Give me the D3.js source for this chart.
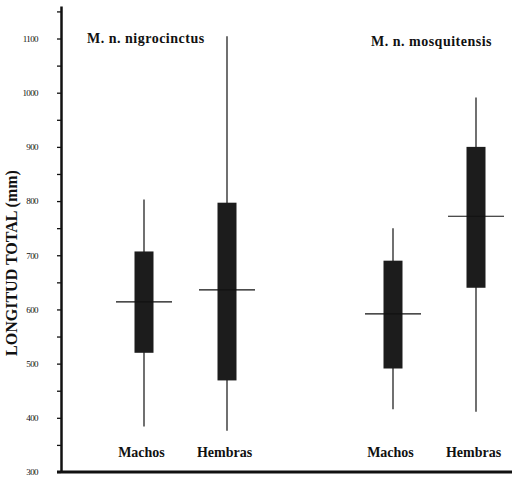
<!DOCTYPE html>
<html>
<head>
<meta charset="utf-8">
<script src="https://cdn.jsdelivr.net/npm/d3@7"></script>
<style>
  body { margin: 0; background: #fff; }
  text { font-family: "Liberation Serif", "Times New Roman", serif; fill: #111; }
</style>
</head>
<body>
<svg width="512" height="478"></svg>
<script>
// data (mm)
var groups = ["M. n. nigrocinctus", "M. n. mosquitensis"];
var sexes = ["Machos", "Hembras"];
var whiskerLow  = [384, 376, 416, 411];
var q1          = [520, 469, 491, 640];
var medians     = [614, 636, 592, 772];
var q3          = [707, 797, 690, 900];
var whiskerHigh = [803, 1104, 750, 991];
var yTicks = d3.range(300, 1151, 50);

function main(){
    var svg = d3.select("svg");

    var yScale = d3.scaleLinear().domain([300, 1160]).range([472, 6]);
    // 5 slots, the middle one left empty between the two subspecies
    var xScale = d3.scaleLinear().domain([0, 4]).range([144, 476]);

    var boxes = [];
    groups.forEach(function(g, gi){
        sexes.forEach(function(s, si){
            var i = gi * 2 + si;
            boxes.push({group: g, sex: s, slot: gi * 3 + si,
                lo: whiskerLow[i], q1: q1[i], med: medians[i], q3: q3[i], hi: whiskerHigh[i]});
        });
    });

    // y axis
    var yAxis = svg.append("g").attr("transform", "translate(61,0)")
        .call(d3.axisLeft(yScale).tickValues(yTicks).tickSize(4).tickSizeOuter(0).tickPadding(19)
            .tickFormat(function(d){ return d % 100 === 0 ? d : ""; }));
    yAxis.select(".domain").attr("stroke", "#111").attr("stroke-width", 2.5);
    yAxis.selectAll(".tick line").attr("stroke", "#111").attr("stroke-width", 1.3);
    yAxis.selectAll(".tick text").style("font-size", "9px").style("letter-spacing", "-0.6px")
        .style("font-family", "Liberation Serif, serif").attr("fill", "#222");

    // x axis baseline
    svg.append("line").attr("x1", 57).attr("x2", 512)
        .attr("y1", yScale(300)).attr("y2", yScale(300))
        .attr("stroke", "#111").attr("stroke-width", 3);

    // axis title
    svg.append("text")
        .attr("transform", "translate(17," + 263 + ") rotate(-90)")
        .attr("text-anchor", "middle")
        .style("font-size", "16px").style("font-weight", "bold")
        .text("LONGITUD TOTAL (mm)");

    var g = svg.append("g");

    // whiskers
    g.selectAll(".whisker").data(boxes).enter().append("line")
        .attr("class", "whisker")
        .attr("x1", function(d){ return xScale(d.slot); })
        .attr("x2", function(d){ return xScale(d.slot); })
        .attr("y1", function(d){ return yScale(d.hi); })
        .attr("y2", function(d){ return yScale(d.lo); })
        .attr("stroke", "#111").attr("stroke-width", 1.2);

    // boxes
    g.selectAll(".bar").data(boxes).enter().append("rect")
        .attr("class", "bar")
        .attr("x", function(d){ return xScale(d.slot) - 9.5; })
        .attr("width", 19)
        .attr("y", function(d){ return yScale(d.q3); })
        .attr("height", function(d){ return yScale(d.q1) - yScale(d.q3); })
        .attr("fill", "#1c1c1c");

    // medians
    g.selectAll(".median").data(boxes).enter().append("line")
        .attr("class", "median")
        .attr("x1", function(d){ return xScale(d.slot) - 28; })
        .attr("x2", function(d){ return xScale(d.slot) + 28; })
        .attr("y1", function(d){ return yScale(d.med); })
        .attr("y2", function(d){ return yScale(d.med); })
        .attr("stroke", "#111").attr("stroke-width", 1.2);

    // category labels
    g.selectAll(".cat").data(boxes).enter().append("text")
        .attr("class", "cat")
        .attr("x", function(d){ return xScale(d.slot) - 2.5; })
        .attr("y", 457)
        .attr("text-anchor", "middle")
        .style("font-size", "14px").style("font-weight", "bold")
        .text(function(d){ return d.sex; });

    // subspecies titles
    svg.append("text").attr("x", 87).attr("y", 43)
        .style("font-size", "14px").style("font-weight", "bold").style("letter-spacing", "0.5px")
        .text(groups[0]);
    svg.append("text").attr("x", 371).attr("y", 46)
        .style("font-size", "14px").style("font-weight", "bold").style("letter-spacing", "0.5px")
        .text(groups[1]);
}
main();
</script>
</body>
</html>
